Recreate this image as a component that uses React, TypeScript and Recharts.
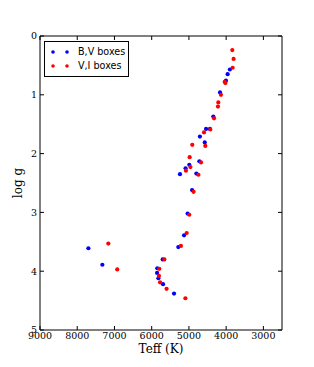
import { ScatterChart, Scatter, XAxis, YAxis, Legend } from 'recharts';

// B,V boxes (blue)
const bvTeff = [3900, 3960, 4005, 4165, 4345, 4540, 4435, 4705, 4575, 4720, 4990, 5090, 5240, 4800, 4915, 5035, 5130, 5285, 7700, 7325, 5705, 5850, 5855, 5820, 5695, 5400];
const bvLogg = [0.57, 0.65, 0.76, 0.96, 1.37, 1.58, 1.58, 1.71, 1.81, 2.13, 2.19, 2.25, 2.35, 2.34, 2.62, 3.02, 3.39, 3.59, 3.61, 3.89, 3.8, 3.95, 4.03, 4.12, 4.22, 4.38];

// V,I boxes (red)
const viTeff = [3835, 3800, 3825, 4040, 4020, 4140, 4210, 4220, 4325, 4425, 4595, 4560, 4910, 4980, 4675, 4960, 5080, 4745, 4875, 4990, 5060, 5215, 7165, 6925, 5660, 5795, 5805, 5775, 5600, 5095];
const viLogg = [0.24, 0.39, 0.54, 0.78, 0.8, 1.0, 1.13, 1.2, 1.4, 1.59, 1.64, 1.87, 1.85, 2.06, 2.15, 2.23, 2.29, 2.36, 2.65, 3.04, 3.35, 3.57, 3.53, 3.97, 3.8, 3.96, 4.08, 4.19, 4.3, 4.46];

const xTicks = [3000, 4000, 5000, 6000, 7000, 8000, 9000];
const yTicks = [0, 1, 2, 3, 4, 5];
const seriesNames = ['B,V boxes', 'V,I boxes'];
const seriesColors = ['#0000ff', '#ff0000'];

const toPoints = (teff: number[], logg: number[]) => teff.map((t, i) => ({ teff: t, logg: logg[i] }));

const serif = 'DejaVu Serif';
const tickStyle = { fontSize: 9.5, fontFamily: serif, fill: '#000' };

const dot = (color: string) => (props: any) => (
    <circle cx={props.cx} cy={props.cy} r={2.1} fill={color} stroke="none" />
);
const noDot = () => <g />;

const LegendBox = () => (
    <div
        style={{
            border: '1px solid #000',
            background: '#fff',
            padding: '3px 3px 3px 5px',
            fontFamily: 'DejaVu Sans',
            fontSize: 9.6,
            lineHeight: '14px',
        }}
    >
        {seriesNames.map((name, i) => (
            <div key={name} style={{ display: 'flex', alignItems: 'center', whiteSpace: 'nowrap' }}>
                <svg width={26} height={14}>
                    <circle cx={3} cy={7} r={1.8} fill={seriesColors[i]} />
                    <circle cx={17} cy={7} r={1.8} fill={seriesColors[i]} />
                </svg>
                <span style={{ marginLeft: 2 }}>{name}</span>
            </div>
        ))}
    </div>
);

const App = () => {
    const bv = toPoints(bvTeff, bvLogg);
    const vi = toPoints(viTeff, viLogg);

    return (
        <div style={{ position: 'absolute', left: 0, top: 0, width: 314, height: 367, background: '#fff' }}>
            <ScatterChart width={314} height={367} margin={{ top: 35, right: 31, bottom: 0, left: 0 }}>
                <XAxis
                    type="number"
                    dataKey="teff"
                    domain={[2500, 9000]}
                    reversed
                    ticks={xTicks}
                    height={37}
                    allowDataOverflow
                    stroke="#000"
                    tickSize={-4}
                    tickMargin={6}
                    tick={tickStyle}
                    label={{ value: 'Teff (K)', position: 'insideBottom', offset: 14, fontSize: 12, fontFamily: serif, fill: '#000' }}
                />
                <XAxis
                    xAxisId="top"
                    orientation="top"
                    type="number"
                    dataKey="teff"
                    domain={[2500, 9000]}
                    reversed
                    ticks={xTicks}
                    height={1}
                    allowDataOverflow
                    stroke="#000"
                    tickSize={-4}
                    tickFormatter={() => ''}
                />
                <YAxis
                    type="number"
                    dataKey="logg"
                    domain={[0, 5]}
                    reversed
                    ticks={yTicks}
                    width={40}
                    allowDataOverflow
                    stroke="#000"
                    tickSize={-4}
                    tickMargin={7}
                    tick={tickStyle}
                    label={{ value: 'log g', angle: -90, position: 'center', dx: -2, fontSize: 12, fontFamily: serif, fill: '#000' }}
                />
                <YAxis
                    yAxisId="right"
                    orientation="right"
                    type="number"
                    dataKey="logg"
                    domain={[0, 5]}
                    reversed
                    ticks={yTicks}
                    width={1}
                    allowDataOverflow
                    stroke="#000"
                    tickSize={-4}
                    tickFormatter={() => ''}
                />
                <Legend
                    layout="vertical"
                    align="center"
                    verticalAlign="middle"
                    wrapperStyle={{ left: 44, top: 41, width: 'auto' }}
                    content={() => <LegendBox />}
                />
                {/* mirror axes need a series to be drawn */}
                <Scatter xAxisId="top" yAxisId="right" data={bv} shape={noDot} legendType="none" isAnimationActive={false} />
                <Scatter name={seriesNames[0]} data={bv} shape={dot(seriesColors[0])} isAnimationActive={false} />
                <Scatter name={seriesNames[1]} data={vi} shape={dot(seriesColors[1])} isAnimationActive={false} />
            </ScatterChart>
        </div>
    );
};

export default App;
